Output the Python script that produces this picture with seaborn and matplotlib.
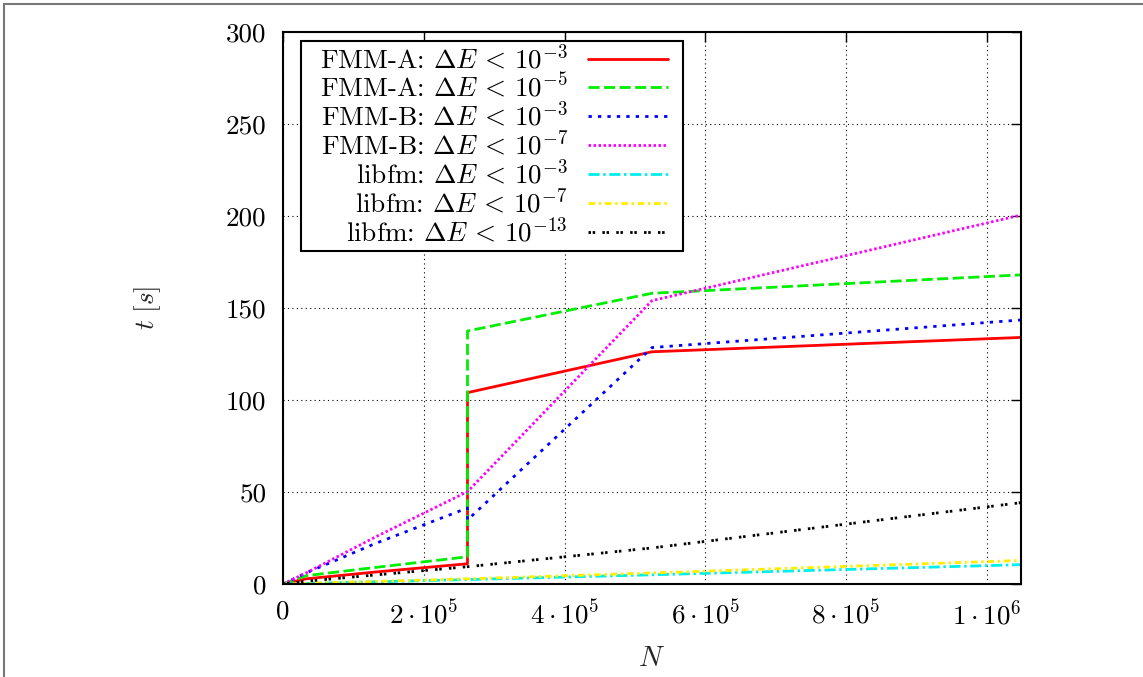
import numpy as np
import pandas as pd
import matplotlib
matplotlib.use("Agg")
import matplotlib.pyplot as plt
import seaborn as sns
from matplotlib.patches import Rectangle

# ---- data ----
labels = [
    r"FMM-A: $\Delta E\,<\,10^{-3}$",
    r"FMM-A: $\Delta E\,<\,10^{-5}$",
    r"FMM-B: $\Delta E\,<\,10^{-3}$",
    r"FMM-B: $\Delta E\,<\,10^{-7}$",
    r"libfm: $\Delta E\,<\,10^{-3}$",
    r"libfm: $\Delta E\,<\,10^{-7}$",
    r"libfm: $\Delta E\,<\,10^{-13}$",
]
fmma3_N = [0, 32768, 131072, 262144, 262144, 524288, 1048576]
fmma3_t = [0.0, 2.8, 6.5, 11.0, 104.0, 126.2, 134.0]
fmma5_N = [0, 32768, 131072, 262144, 262144, 524288, 1048576]
fmma5_t = [0.0, 4.5, 9.0, 14.8, 137.5, 158.0, 168.0]
fmmb3_N = [0, 32768, 131072, 262144, 262144, 524288, 1048576]
fmmb3_t = [0.0, 6.0, 22.0, 41.3, 34.8, 128.5, 143.5]
fmmb7_N = [0, 32768, 131072, 262144, 524288, 1048576]
fmmb7_t = [0.0, 6.0, 25.5, 50.2, 154.0, 200.5]
lib3_N = [0, 32768, 131072, 262144, 524288, 1048576]
lib3_t = [0.0, 0.3, 1.2, 2.4, 5.0, 10.5]
lib7_N = [0, 32768, 131072, 262144, 524288, 1048576]
lib7_t = [0.0, 0.4, 1.4, 2.8, 6.0, 12.8]
lib13_N = [0, 32768, 131072, 262144, 524288, 1048576]
lib13_t = [0.0, 1.5, 4.9, 9.4, 19.6, 44.2]

xticks = [0, 2e5, 4e5, 6e5, 8e5, 1e6]
xticklabels = ["0", r"$2\cdot10^{5}$", r"$4\cdot10^{5}$", r"$6\cdot10^{5}$",
               r"$8\cdot10^{5}$", r"$1\cdot10^{6}$"]
yticks = [0, 50, 100, 150, 200, 250, 300]
yticklabels = ["0", "50", "100", "150", "200", "250", "300"]

series = [(fmma3_N, fmma3_t), (fmma5_N, fmma5_t), (fmmb3_N, fmmb3_t),
          (fmmb7_N, fmmb7_t), (lib3_N, lib3_t), (lib7_N, lib7_t),
          (lib13_N, lib13_t)]
colors = ["#ff0000", "#00ee00", "#0000ff", "#ff00ff", "#00eeee", "#ffee00", "#000000"]
dashes = [None, (4.0, 1.6), (1.2, 2.2), (0.9, 0.9), (4.0, 1.3, 0.9, 1.3),
          (2.4, 1.3, 0.9, 1.3), (0.9, 0.6, 0.9, 2.6)]

# ---- style ----
sns.set_theme(style="white")
plt.rcParams["font.family"] = ["cmr10", "DejaVu Serif"]
plt.rcParams["mathtext.fontset"] = "cm"
plt.rcParams["axes.unicode_minus"] = False
plt.rcParams["axes.formatter.use_mathtext"] = True

FS = 19.5
W_PX, H_PX = 1143, 677
AX_L, AX_R, AX_T, AX_B = 283, 1021, 32, 584

fig = plt.figure(figsize=(W_PX / 100, H_PX / 100), dpi=100)
ax = fig.add_axes([AX_L / W_PX, 1 - AX_B / H_PX, (AX_R - AX_L) / W_PX, (AX_B - AX_T) / H_PX])

for (n, t), lab, c, d in zip(series, labels, colors, dashes):
    df = pd.DataFrame({"N": n, "t": t})
    sns.lineplot(data=df, x="N", y="t", estimator=None, sort=False, ax=ax,
                 color=c, linewidth=2.0, label=lab)
    line = ax.get_lines()[-1]
    if d is not None:
        line.set_dashes(d)

ax.set_xlim(0, 1048576)
ax.set_ylim(0, 300)
ax.set_xticks(xticks, labels=xticklabels)
ax.set_yticks(yticks, labels=yticklabels)
ax.tick_params(direction="in", length=7, width=1.0, top=True, right=True,
               labelsize=FS, pad=12, colors="black")
ax.tick_params(axis="x", pad=11)
for s in ax.spines.values():
    s.set_visible(True)
    s.set_color("black")
    s.set_linewidth(1.5)
ax.grid(True, color="black", linestyle=(0, (1, 3)), linewidth=0.8)
ax.set_axisbelow(True)

ax.set_xlabel(r"$N$", fontsize=FS + 1, labelpad=12)
ax.set_ylabel(r"$t\ [s]$", fontsize=FS, labelpad=45)

aw, ah = AX_R - AX_L, AX_B - AX_T
leg = ax.legend(loc="upper left", bbox_to_anchor=((320 - AX_L) / aw, 1 - (43.5 - AX_T) / ah),
                markerfirst=False, fontsize=FS, frameon=False,
                handlelength=2.95, handletextpad=0.75, labelspacing=-0.03,
                borderpad=0.0, borderaxespad=0)
for h in leg.get_lines():
    h.set_linewidth(2.0)

# right-align legend labels (gnuplot style) and draw a gnuplot-like key box
fig.canvas.draw()
renderer = fig.canvas.get_renderer()
bbs = [t.get_window_extent(renderer) for t in leg.get_texts()]
hbs = [h.get_window_extent(renderer) for h in leg.get_lines()]
xr = max(b.x1 for b in bbs)
W, H = fig.bbox.width, fig.bbox.height
for t, b in zip(leg.get_texts(), bbs):
    fig.text(xr / W, b.y0 / H, t.get_text(), ha="right", va="bottom",
             fontsize=FS, color="black", zorder=10)
    t.set_visible(False)

x0 = min(b.x0 for b in bbs) - 19
x1 = max(h.x1 for h in hbs) + 15
y1 = bbs[0].y1 + 2.5
y0 = bbs[-1].y0 - 4.5
key = Rectangle((x0 / W, y0 / H), (x1 - x0) / W, (y1 - y0) / H,
                transform=fig.transFigure, facecolor="white", edgecolor="black",
                linewidth=1.5, zorder=4.5, clip_on=False)
ax.add_artist(key)

fig.patches.append(Rectangle((4 / W_PX, -0.1), 1.2, 1.1 - 4 / H_PX,
                             transform=fig.transFigure, fill=False,
                             edgecolor="#777777", linewidth=1.5))

fig.savefig("out.png", dpi=100)
